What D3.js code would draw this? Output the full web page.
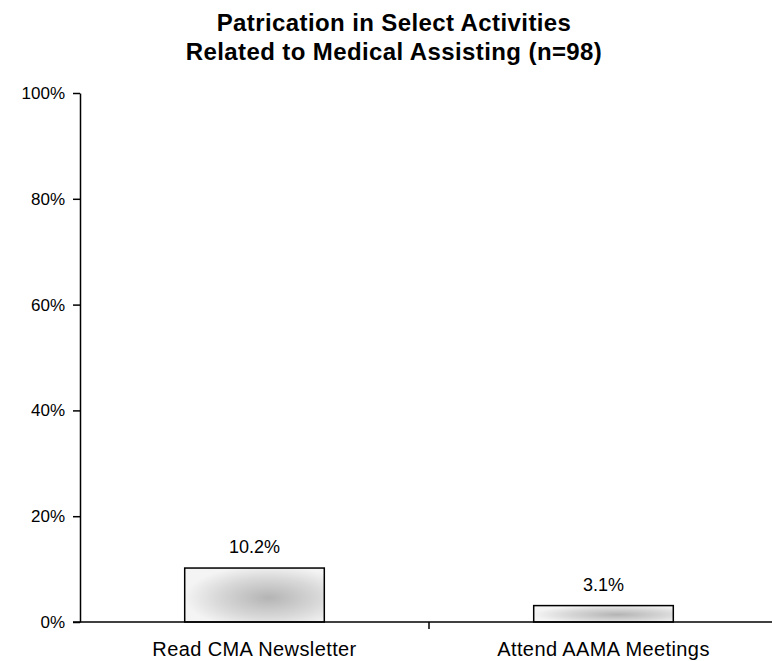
<!DOCTYPE html>
<html><head><meta charset="utf-8">
<script src="https://cdn.jsdelivr.net/npm/d3@7"></script>
<style>body{margin:0;background:#fff}svg{display:block}</style>
</head><body>
<svg id="c" width="772" height="661"></svg>
<script>
const categories = ["Read CMA Newsletter", "Attend AAMA Meetings"];
const values = [10.2, 3.1];
const valueLabels = ["10.2%", "3.1%"];
const yTicks = [0, 20, 40, 60, 80, 100];
const titleLines = ["Patrication in Select Activities", "Related to Medical Assisting (n=98)"];

const svg = d3.select("#c");
const font = "Arial, 'Liberation Sans', sans-serif";
const x0 = 80, x1 = 778, yTop = 93, yBot = 622;

const defs = svg.append("defs");
const g = defs.append("radialGradient").attr("id", "stip").attr("cx", "60%").attr("cy", "55%").attr("r", "60%");
g.append("stop").attr("offset", "0%").attr("stop-color", "#b4b4b4");
g.append("stop").attr("offset", "60%").attr("stop-color", "#d8d8d8");
g.append("stop").attr("offset", "100%").attr("stop-color", "#f4f4f4");

const x = d3.scaleBand().domain(categories).range([x0, x1]).paddingInner(0.6).paddingOuter(0.3);
const y = d3.scaleLinear().domain([0, 100]).range([yBot, yTop]);

svg.selectAll("text.title").data(titleLines).join("text")
  .attr("x", 394).attr("y", (d, i) => 31 + i * 29)
  .attr("text-anchor", "middle").attr("font-family", font)
  .attr("font-weight", "bold").attr("font-size", 24).attr("letter-spacing", 0.4).text(d => d);

const yAxis = svg.append("g").attr("transform", `translate(${x0},0)`)
  .call(d3.axisLeft(y).tickValues(yTicks).tickFormat(d => d + "%").tickSize(7).tickSizeOuter(0));
yAxis.select(".domain").attr("stroke", "#000").attr("stroke-width", 1.5);
yAxis.selectAll(".tick line").attr("stroke", "#000").attr("stroke-width", 1.5);
yAxis.selectAll(".tick text").attr("font-family", font).attr("font-size", 17).attr("fill", "#000").attr("dx", "-5");

svg.selectAll("rect.bar").data(values).join("rect")
  .attr("x", (d, i) => x(categories[i]))
  .attr("y", d => y(d))
  .attr("width", x.bandwidth())
  .attr("height", d => yBot - y(d))
  .attr("fill", "url(#stip)").attr("stroke", "#000").attr("stroke-width", 1.5);

svg.selectAll("text.val").data(values).join("text")
  .attr("x", (d, i) => x(categories[i]) + x.bandwidth() / 2)
  .attr("y", d => y(d) - 15)
  .attr("text-anchor", "middle").attr("font-family", font).attr("font-size", 18)
  .text((d, i) => valueLabels[i]);

// x axis
const xl = d3.scaleLinear().domain([0, categories.length]).range([x0, x1]);
const xAxis = svg.append("g").attr("transform", `translate(0,${yBot})`);
xAxis.append("line").attr("x1", x0 - 7).attr("x2", x1).attr("stroke", "#000").attr("stroke-width", 1.5);
xAxis.selectAll("line.t").data(d3.range(1, categories.length)).join("line")
  .attr("x1", d => xl(d)).attr("x2", d => xl(d)).attr("y1", 0).attr("y2", 7)
  .attr("stroke", "#000").attr("stroke-width", 1.5);
xAxis.selectAll("text").data(categories).join("text")
  .attr("x", d => x(d) + x.bandwidth() / 2).attr("y", 34)
  .attr("text-anchor", "middle").attr("font-family", font).attr("font-size", 20).attr("letter-spacing", 0.4).text(d => d);
</script>
</body></html>
